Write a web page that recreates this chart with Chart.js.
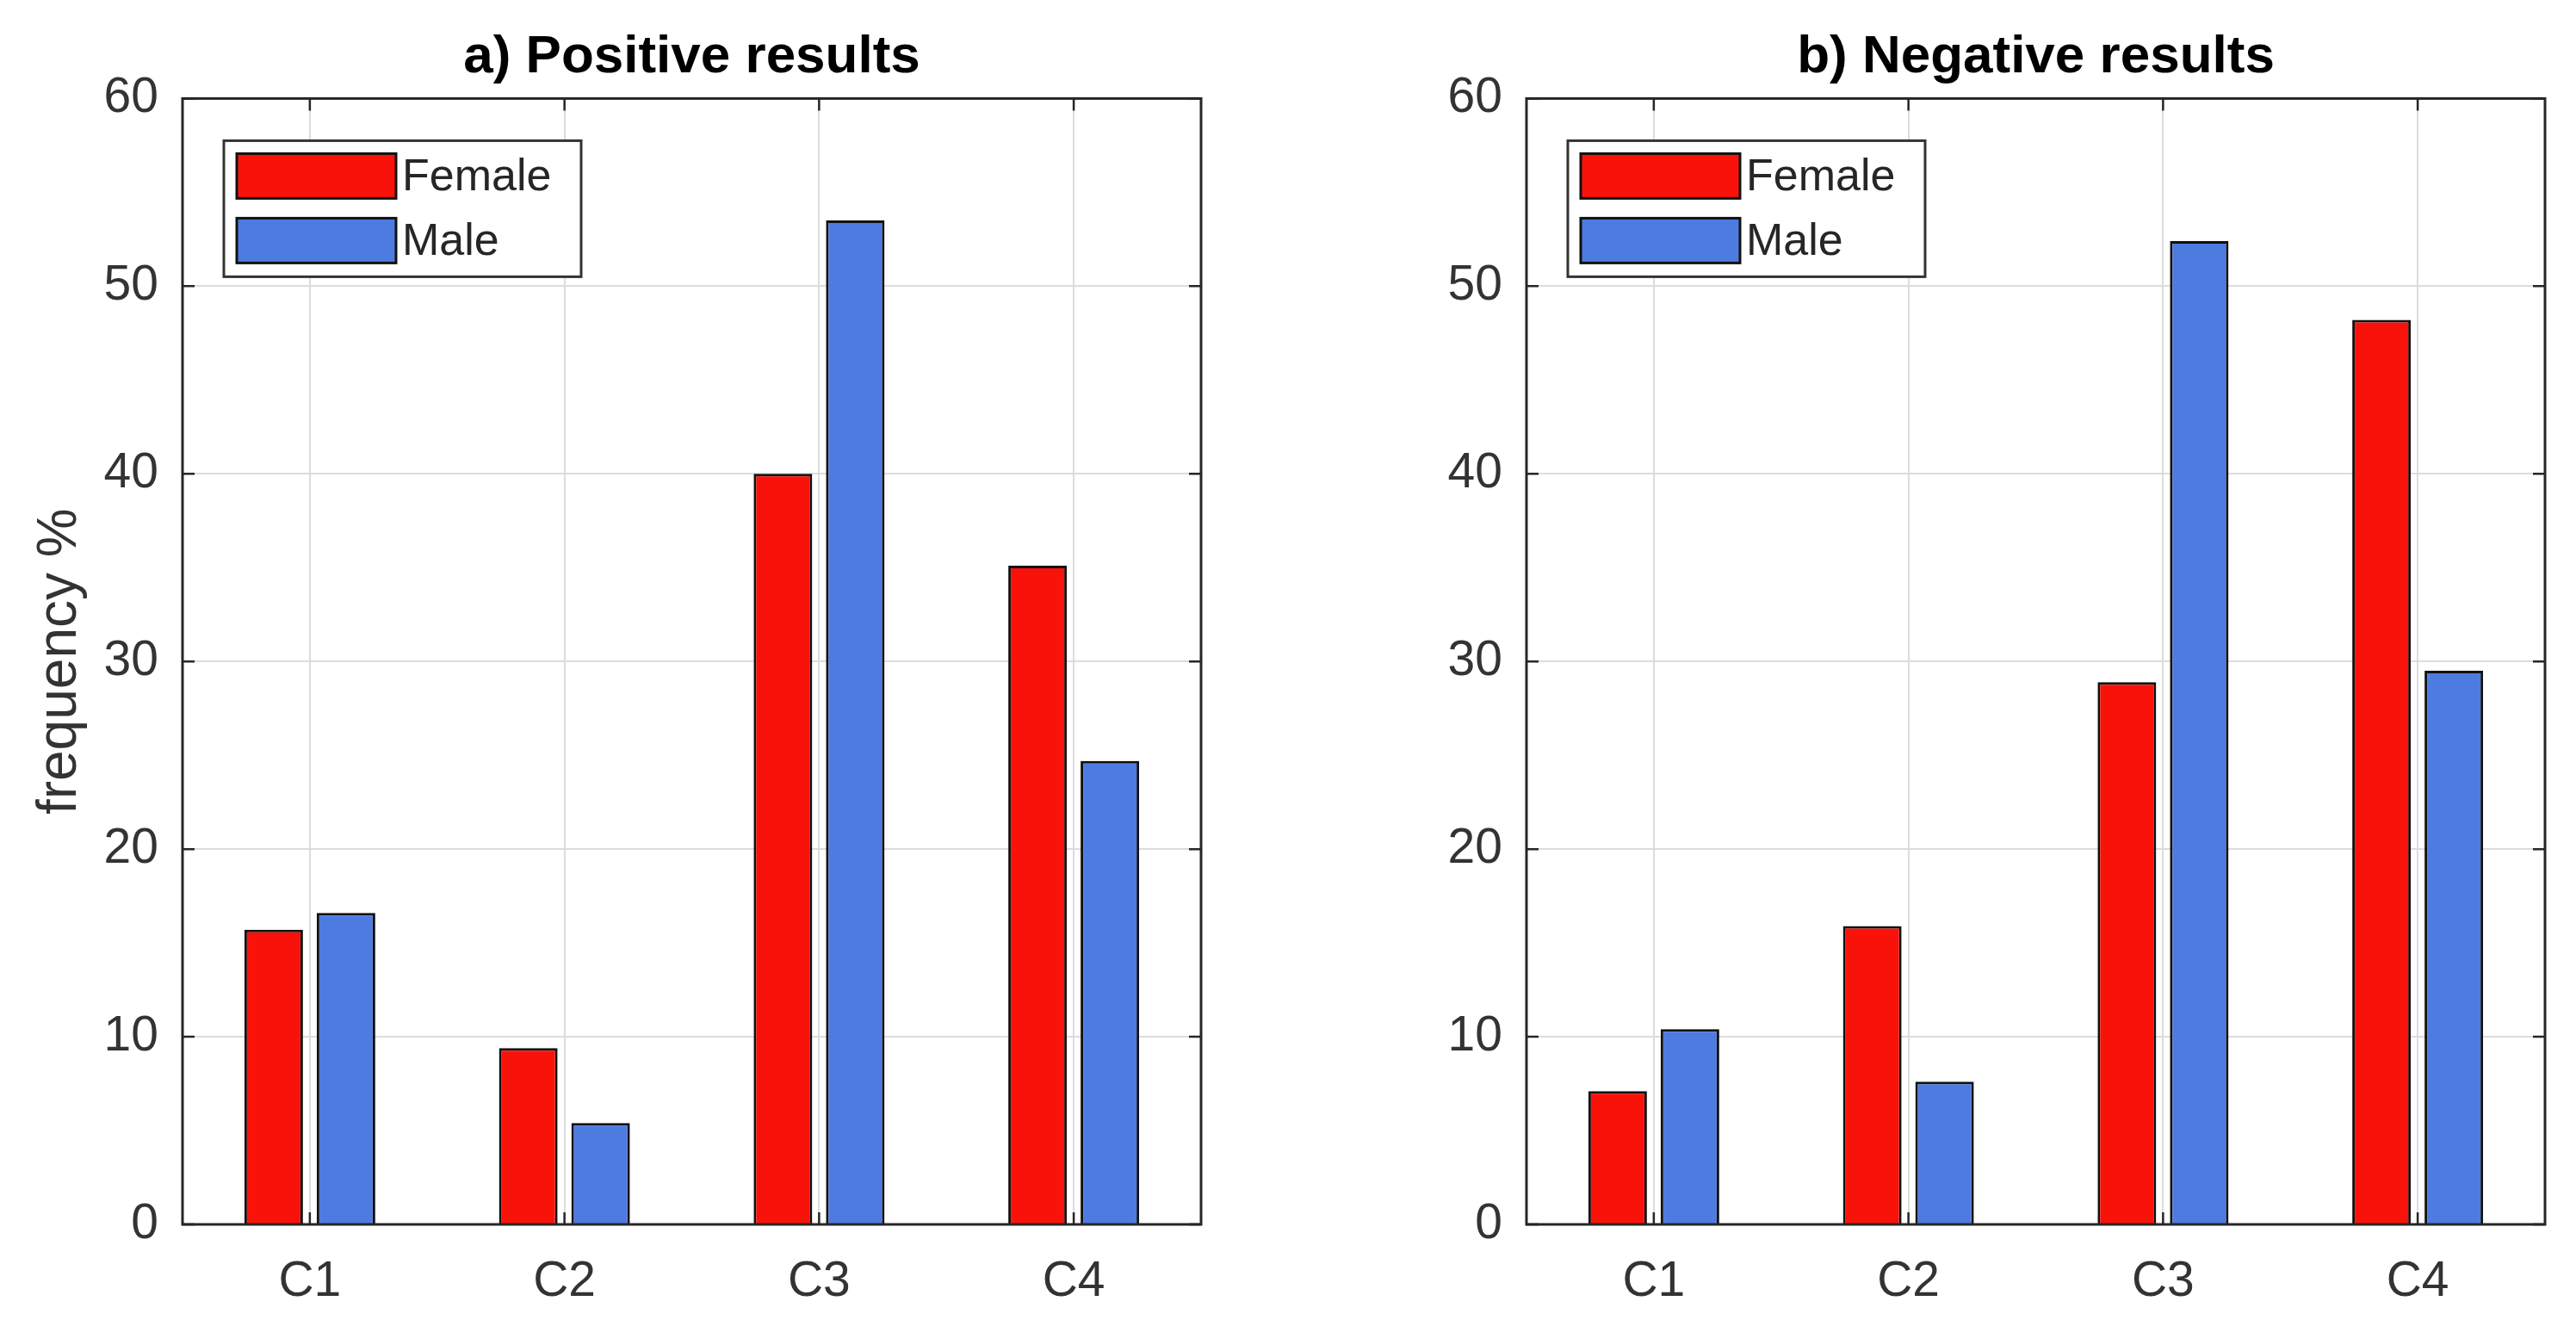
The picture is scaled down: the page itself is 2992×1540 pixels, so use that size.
<!DOCTYPE html>
<html lang="en">
<head>
<meta charset="UTF-8">
<title>Positive / Negative results</title>
<script src="https://cdn.jsdelivr.net/npm/chart.js"></script>
<style>
    body { margin: 0; background: #fff; }
    .panel { position: absolute; top: 0; width: 1496px; height: 1540px; }
    #panelA { left: 0; }
    #panelB { left: 1496px; }
</style>
</head>
<body>
<div class="panel" id="panelA"><canvas id="chartA"></canvas></div>
<div class="panel" id="panelB"><canvas id="chartB"></canvas></div>

<script>
const categories = ['C1', 'C2', 'C3', 'C4'];
const seriesNames = ['Female', 'Male'];
const posFemale = [15.7, 9.4, 40.0, 35.1];
const posMale = [16.6, 5.4, 53.5, 24.7];
const negFemale = [7.1, 15.9, 28.9, 48.2];
const negMale = [10.4, 7.6, 52.4, 29.5];
const yMin = 0, yMax = 60, yStep = 10;

const FONT = "'Liberation Sans', Arial, Helvetica, sans-serif";
const RED = '#f9120a', BLUE = '#4d7be0', INK = '#262626';

// matlab-ish frame: full box, inward ticks, legend box in the north-west corner
const matlabFrame = {
    id: 'matlabFrame',
    afterDraw(chart) {
        const { ctx, chartArea: a, scales } = chart;
        ctx.save();
        ctx.strokeStyle = INK;
        ctx.lineWidth = 2.5;
        ctx.beginPath();
        scales.y.ticks.forEach(t => {
            const y = scales.y.getPixelForValue(t.value);
            ctx.moveTo(a.left, y); ctx.lineTo(a.left + 14, y);
            ctx.moveTo(a.right, y); ctx.lineTo(a.right - 14, y);
        });
        categories.forEach((c, i) => {
            const x = scales.x.getPixelForValue(i);
            ctx.moveTo(x, a.bottom); ctx.lineTo(x, a.bottom - 14);
            ctx.moveTo(x, a.top); ctx.lineTo(x, a.top + 14);
        });
        ctx.stroke();
        ctx.lineWidth = 3;
        ctx.strokeRect(a.left, a.top, a.right - a.left, a.bottom - a.top);

        // legend
        const bx = a.left + 48, by = a.top + 49;
        ctx.fillStyle = '#fff';
        ctx.fillRect(bx, by, 415, 158);
        ctx.strokeStyle = '#333';
        ctx.strokeRect(bx, by, 415, 158);
        chart.data.datasets.forEach((ds, i) => {
            const py = by + 15 + i * 75;
            ctx.fillStyle = ds.backgroundColor;
            ctx.fillRect(bx + 15, py, 185, 52);
            ctx.strokeStyle = '#111';
            ctx.strokeRect(bx + 15, py, 185, 52);
            ctx.fillStyle = INK;
            ctx.font = '52px ' + FONT;
            ctx.textBaseline = 'middle';
            ctx.textAlign = 'left';
            ctx.fillText(ds.label, bx + 207, py + 28);
        });
        ctx.restore();
    }
};

function makeChart(id, title, female, male, yLabel, yWidth, padRight) {
    const grid = { color: '#dcdcdc', lineWidth: 2, drawTicks: false };
    const tickFont = { family: FONT, size: 57 };
    return new Chart(document.getElementById(id), {
        type: 'bar',
        data: {
            labels: categories,
            datasets: [
                { label: seriesNames[0], data: female, backgroundColor: RED },
                { label: seriesNames[1], data: male, backgroundColor: BLUE }
            ].map(d => Object.assign(d, {
                borderColor: '#111', borderWidth: 3,
                categoryPercentage: 0.568, barPercentage: 0.81
            }))
        },
        options: {
            responsive: true,
            maintainAspectRatio: false,
            animation: false,
            layout: { padding: { left: 0, right: padRight, top: 0, bottom: 0 } },
            plugins: {
                legend: { display: false },
                tooltip: { enabled: false },
                title: {
                    display: true, text: title, color: '#000', fullSize: false,
                    font: { family: FONT, size: 62, weight: 'bold', lineHeight: 1.2 },
                    padding: { top: 30, bottom: 10 }
                }
            },
            scales: {
                x: {
                    grid: Object.assign({ offset: false }, grid),
                    border: { display: false },
                    ticks: { color: '#333', font: tickFont, padding: 33 },
                    afterFit: s => { s.height = 118; }
                },
                y: {
                    min: yMin, max: yMax,
                    grid: grid,
                    border: { display: false },
                    ticks: { stepSize: yStep, color: '#333', font: tickFont, padding: 28 },
                    title: {
                        display: !!yLabel, text: yLabel, color: '#333',
                        font: { family: FONT, size: 64 },
                        padding: { top: 32, bottom: 0 }
                    },
                    afterFit: s => { s.width = yWidth; }
                }
            }
        },
        plugins: [matlabFrame]
    });
}

makeChart('chartA', 'a) Positive results', posFemale, posMale, 'frequency %', 212, 101);
makeChart('chartB', 'b) Negative results', negFemale, negMale, '', 277, 36);
</script>
</body>
</html>
